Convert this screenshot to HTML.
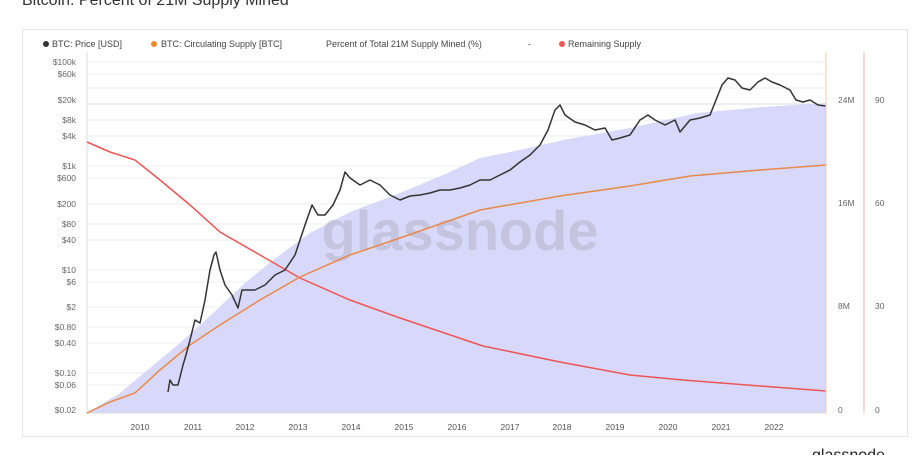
<!DOCTYPE html>
<html><head><meta charset="utf-8"><style>
body{margin:0;background:#fff;font-family:"Liberation Sans",sans-serif;}
</style></head><body>
<svg width="917" height="455" xmlns="http://www.w3.org/2000/svg" font-family="Liberation Sans, sans-serif">
<rect width="917" height="455" fill="#fff"/>
<text x="22" y="5" font-size="16" fill="#333">Bitcoin: Percent of 21M Supply Mined</text>
<rect x="22.5" y="29.5" width="885" height="407" fill="#fff" stroke="#e6e6e6"/>
<g font-size="9" fill="#444">
<circle cx="46" cy="44" r="3" fill="#333"/><text x="52" y="47">BTC: Price [USD]</text>
<circle cx="154" cy="44" r="3" fill="#f08a24"/><text x="161" y="47">BTC: Circulating Supply [BTC]</text>
<text x="326" y="47">Percent of Total 21M Supply Mined (%)</text>
<text x="528" y="47">-</text>
<circle cx="562" cy="44" r="3" fill="#ee5555"/><text x="568" y="47">Remaining Supply</text>
</g>
<g stroke="#ececec" stroke-width="1">
<line x1="87" y1="62" x2="826" y2="62"/><line x1="87" y1="74" x2="826" y2="74"/>
<line x1="87" y1="88" x2="826" y2="88"/><line x1="87" y1="104" x2="826" y2="104" stroke="#ddd"/>
<line x1="87" y1="120" x2="826" y2="120"/><line x1="87" y1="136" x2="826" y2="136"/>
<line x1="87" y1="166" x2="826" y2="166"/><line x1="87" y1="178" x2="826" y2="178"/>
<line x1="87" y1="204" x2="826" y2="204"/><line x1="87" y1="224" x2="826" y2="224"/>
<line x1="87" y1="240" x2="826" y2="240"/><line x1="87" y1="270" x2="826" y2="270"/>
<line x1="87" y1="282" x2="826" y2="282"/><line x1="87" y1="307" x2="826" y2="307"/>
<line x1="87" y1="327" x2="826" y2="327"/><line x1="87" y1="343" x2="826" y2="343"/>
<line x1="87" y1="373" x2="826" y2="373"/><line x1="87" y1="385" x2="826" y2="385"/>
</g>
<line x1="87" y1="52" x2="87" y2="413" stroke="#ddd"/>
<polygon fill="#d8d8fa" points="87,413 120,393 150,368 180,343 210,316 245,283 273,260 310,233 350,212 400,193 450,172 480,158 520,150 563,140 630,128 697,113 763,107 826,103 826,413"/>
<text x="460" y="250" font-size="56" fill="#b8b8cc" fill-opacity="0.6" text-anchor="middle" font-weight="bold">glassnode</text>
<line x1="87" y1="413" x2="826" y2="413" stroke="#ddd"/>
<polyline fill="none" stroke="#ee5555" stroke-width="1.5" points="87,142 110,152 135,160 160,180 190,205 220,232 260,255 300,278 350,300 400,318 483,346 560,362 630,375 683,380 760,386 826,391"/>
<polyline fill="none" stroke="#e8894a" stroke-width="1.5" points="87,413 110,402 135,393 160,370 190,345 220,325 260,300 300,277 350,255 400,238 480,210 560,196 630,186 690,176 760,170 826,165"/>
<polyline fill="none" stroke="#333" stroke-width="1.5" stroke-linejoin="round" points="168,392 170,380 173,385 178,385 183,365 186,355 190,340 195,320 200,323 205,300 210,270 214,255 216,252 220,270 225,285 232,295 238,308 242,290 248,290 255,290 265,285 275,275 285,270 295,255 305,225 312,205 318,215 325,215 333,205 340,190 345,172 350,178 360,185 370,180 380,185 390,195 400,200 410,196 420,195 430,193 440,190 450,190 460,188 470,185 480,180 490,180 500,175 510,170 520,162 530,155 540,145 548,130 555,110 560,105 565,115 575,122 585,125 595,130 605,128 612,140 620,138 630,135 640,120 648,115 655,120 665,125 675,120 680,132 690,120 700,118 710,115 716,100 722,85 728,78 735,80 742,88 750,90 758,82 765,78 772,82 780,85 790,90 796,100 803,102 810,100 818,105 826,106"/>
<line x1="826" y1="52" x2="826" y2="413" stroke="#f5c8a8"/>
<line x1="864" y1="52" x2="864" y2="413" stroke="#f5b0b0"/>
<g font-size="8.5" fill="#666" text-anchor="end">
<text x="76" y="65">$100k</text><text x="76" y="77">$60k</text><text x="76" y="103">$20k</text>
<text x="76" y="123">$8k</text><text x="76" y="139">$4k</text><text x="76" y="169">$1k</text>
<text x="76" y="181">$600</text><text x="76" y="207">$200</text><text x="76" y="227">$80</text>
<text x="76" y="243">$40</text><text x="76" y="273">$10</text><text x="76" y="285">$6</text>
<text x="76" y="310">$2</text><text x="76" y="330">$0.80</text><text x="76" y="346">$0.40</text>
<text x="76" y="376">$0.10</text><text x="76" y="388">$0.06</text><text x="76" y="413">$0.02</text>
</g>
<g font-size="8.5" fill="#666">
<text x="838" y="103">24M</text><text x="838" y="206">16M</text><text x="838" y="309">8M</text><text x="838" y="413">0</text>
<text x="875" y="103">90</text><text x="875" y="206">60</text><text x="875" y="309">30</text><text x="875" y="413">0</text>
</g>
<g font-size="8.5" fill="#555" text-anchor="middle">
<text x="140" y="430">2010</text><text x="193" y="430">2011</text><text x="245" y="430">2012</text>
<text x="298" y="430">2013</text><text x="351" y="430">2014</text><text x="404" y="430">2015</text>
<text x="457" y="430">2016</text><text x="510" y="430">2017</text><text x="562" y="430">2018</text>
<text x="615" y="430">2019</text><text x="668" y="430">2020</text><text x="721" y="430">2021</text>
<text x="774" y="430">2022</text>
</g>
<text x="812" y="460" font-size="16" fill="#222">glassnode</text>
</svg>
</body></html>
